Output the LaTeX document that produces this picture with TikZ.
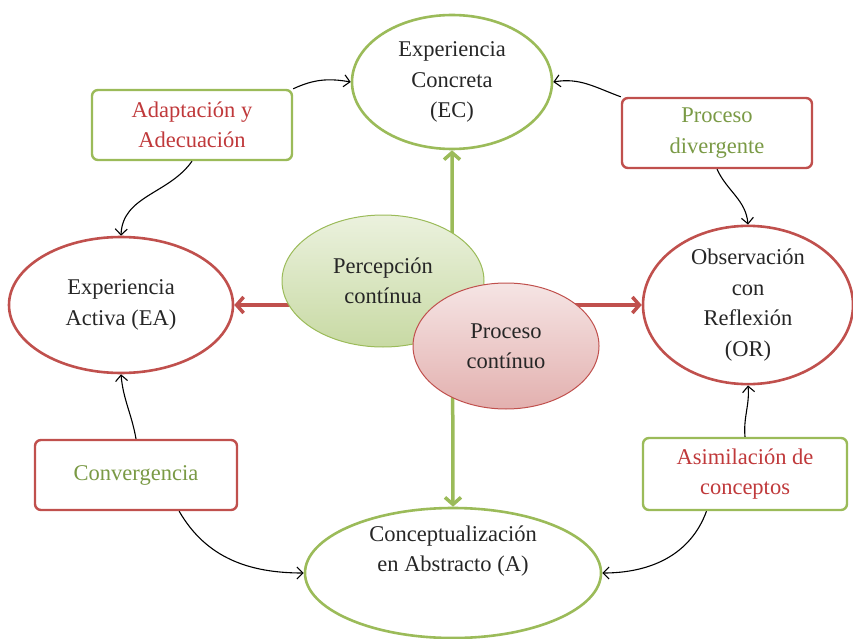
\documentclass[tikz,border=0pt]{standalone}
\usepackage{fontspec}
\setmainfont{Liberation Serif}
\usetikzlibrary{arrows.meta,shapes.geometric}
\definecolor{ogreen}{HTML}{9BBB59}
\definecolor{ored}{HTML}{C0504D}
\definecolor{tgreen}{HTML}{7A9A45}
\definecolor{tred}{HTML}{C0393B}
\tikzset{
  txt/.style={font=\fontsize{22.5}{30.5}\selectfont, align=center, text=black!85},
  bigell/.style={ellipse, line width=2.6pt, fill=white, inner sep=0pt, txt},
  box/.style={rectangle, rounded corners=6pt, line width=2.4pt, fill=white, txt},
  thin/.style={black, line width=1.1pt, -{Straight Barb[length=6pt,width=12pt]}},
  thick/.style={line width=3.5pt, {Straight Barb[length=7pt,width=16pt]}-{Straight Barb[length=7pt,width=16pt]}},
}
\begin{document}
\begin{tikzpicture}[x=1pt,y=-1pt]
\useasboundingbox (0,0) rectangle (853,639);
% big ellipses
\node[bigell, draw=ogreen, minimum width=200, minimum height=134] (EC) at (452,82) {Experiencia\\Concreta\\(EC)};
\node[bigell, draw=ored, minimum width=224, minimum height=136] (EA) at (121,305) {Experiencia\\Activa (EA)};
\node[bigell, draw=ored, minimum width=210, minimum height=136] (OR) at (748,305) {Observación\\con\\Reflexión\\(OR)};
\node[bigell, draw=ogreen, minimum width=296, minimum height=130] (A) at (453,573) {};
\node[txt] (Atxt) at (453,551) {Conceptualización\\en Abstracto (A)};
\draw[thick, ogreen] (EC.south) -- (A.north);
\draw[thick, ored] (EA.east) -- (OR.west);
% central ellipses
\node[ellipse, draw=ogreen, line width=1pt, top color={ogreen!20}, bottom color={ogreen!55}, minimum width=202, minimum height=132, txt] (PC) at (383,281) {Percepción\\contínua};
\node[ellipse, draw=ored, line width=1pt, top color={ored!15}, bottom color={ored!45}, minimum width=186, minimum height=126, txt] (PR) at (506,346) {Proceso\\contínuo};
% boxes
\node[box, draw=ogreen, text=tred, minimum width=200, minimum height=70] (adapt) at (192,125) {Adaptación y\\Adecuación};
\node[box, draw=ored, text=tgreen, minimum width=190, minimum height=70] (div) at (717,133) {Proceso\\divergente};
\node[box, draw=ored, text=tgreen, minimum width=202, minimum height=70] (conv) at (136,475) {Convergencia};
\node[box, draw=ogreen, text=tred, minimum width=204, minimum height=72] (asim) at (745,474) {Asimilación de\\conceptos};
% thin arrows
\draw[thin] (adapt.north east) to[out=25,in=170] (EC.west);
\draw[thin] (adapt.south) to[out=235,in=88] (EA.north);
\draw[thin] (div.north west) to[out=160,in=10] (EC.east);
\draw[thin] (div.south) to[out=-65,in=95] (OR.north);
\draw[thin] (conv.north) to[out=100,in=-85] (EA.south);
\draw[thin] (conv.-40) to[out=-60,in=180] (A.west);
\draw[thin] (asim.north) to[out=95,in=-85] (OR.south);
\draw[thin] (asim.-136) to[out=-110,in=0] (A.east);
\end{tikzpicture}
\end{document}
